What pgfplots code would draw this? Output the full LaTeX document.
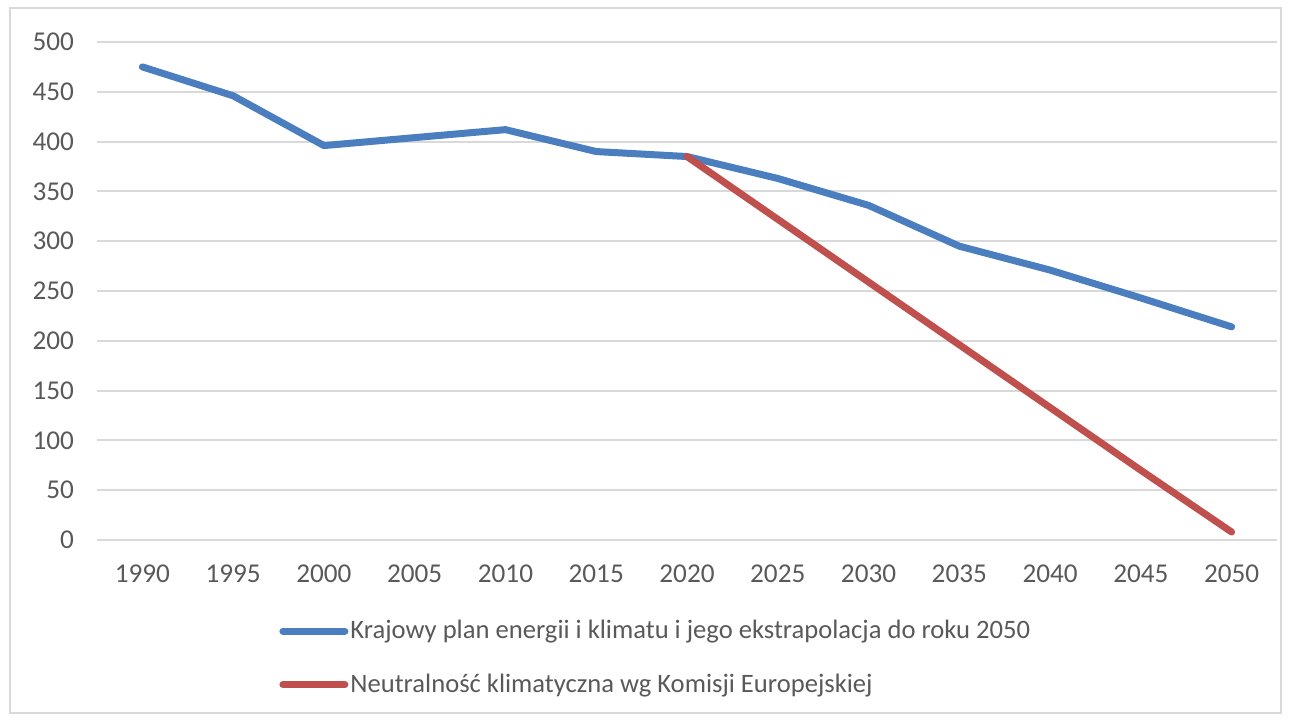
\documentclass[border=0pt]{standalone}
\usepackage{fontspec}
\setmainfont{Carlito}
\usepackage{pgfplots}
\pgfplotsset{compat=1.18}
\definecolor{serA}{HTML}{4A7EBF}
\definecolor{serB}{HTML}{C0504D}
\definecolor{gridc}{HTML}{D9D9D9}
\definecolor{tickc}{HTML}{595959}

\begin{document}
\begin{tikzpicture}
  % picture is 1291x721 px at 0.5pt per px; axis box starts at (97,540) px
  \useasboundingbox (-48.5pt,-90.5pt) rectangle (597pt,270pt);
  \draw[gridc, line width=1pt] (-43.5pt,-86.5pt) rectangle (592pt,266pt);
  \begin{axis}[
      scale only axis,
      width=590pt,
      height=249pt,
      xmin=-0.5, xmax=12.5,
      ymin=0, ymax=500,
      xtick={0,...,12},
      xticklabels={1990,1995,2000,2005,2010,2015,2020,2025,2030,2035,2040,2045,2050},
      ytick={0,50,...,500},
      axis line style={draw=none},
      major tick length=0pt,
      ymajorgrids=true,
      grid style={gridc, line width=1pt},
      tick label style={font=\fontsize{13.6}{15}\selectfont, text=tickc},
      /pgf/number format/assume math mode=true,
      yticklabel style={xshift=-8pt},
      xticklabel style={yshift=-9pt},
      legend style={
        at={(91pt,-39pt)}, anchor=north west,
        draw=none, fill=none,
        font=\fontsize{13.3}{15}\selectfont,
        text=tickc,
        row sep=14pt,
        inner sep=0pt,
        nodes={inner sep=1pt},
      },
      legend cell align=left,
      legend image code/.code={\draw[#1, line width=3.5pt, line cap=round] (0pt,0pt) -- (31pt,0pt);},
      every axis plot/.append style={line width=3.5pt, line cap=round, line join=round},
    ]
    \addplot[serA] coordinates {
      (0,475) (1,446) (2,396) (3,404) (4,412) (5,390) (6,385)
      (7,363) (8,336) (9,295) (10,271) (11,243) (12,214)
    };
    \addlegendentry{Krajowy plan energii i klimatu i jego ekstrapolacja do roku 2050}
    \addplot[serB] coordinates {
      (6,385) (7,322) (8,259) (9,196) (10,133) (11,70) (12,8)
    };
    \addlegendentry{Neutralność klimatyczna wg Komisji Europejskiej}
  \end{axis}
\end{tikzpicture}
\end{document}
